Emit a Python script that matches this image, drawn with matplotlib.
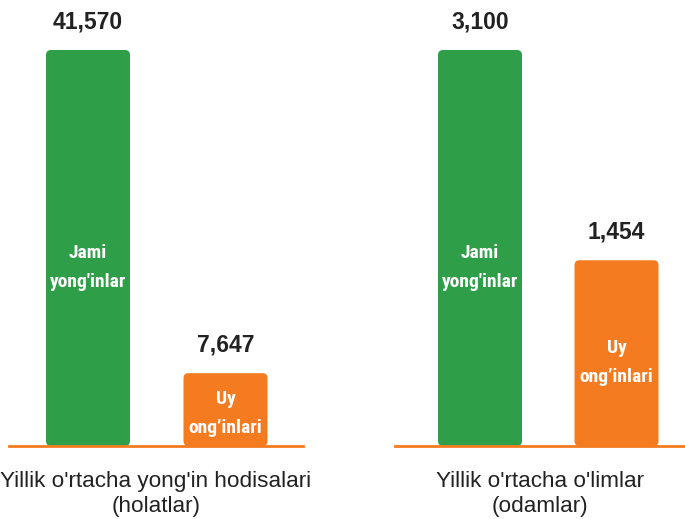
import matplotlib
matplotlib.use("Agg")
import matplotlib.pyplot as plt
from matplotlib.patches import FancyBboxPatch

# data
groups = ["Yillik o'rtacha yong'in hodisalari\n(holatlar)",
          "Yillik o'rtacha o'limlar\n(odamlar)"]
fires = [41570, 7647]
deaths = [3100, 1454]
bar_names = ["Jami\nyong'inlar", "Uy\nong\u2019inlari"]

green = "#2E9E48"
orange = "#F47B20"
W, H = 685, 519

fig = plt.figure(figsize=(W / 100, H / 100), dpi=100)
fig.patch.set_facecolor("white")


def panel(left_px, right_px, first_center_px, gap_px, values, title):
    base_px = 446
    top_green_px = 50
    ax = fig.add_axes([left_px / W, (H - base_px) / H, (right_px - left_px) / W, base_px / H])
    xl = -(first_center_px - left_px) / gap_px
    xr = (right_px - first_center_px) / gap_px
    ymax = values[0] * base_px / (base_px - top_green_px)
    ax.set_xlim(xl, xr)
    ax.set_ylim(0, ymax)
    width = 84 / gap_px
    bars = ax.bar([0, 1], values, width=width, color=[green, orange])

    # swap the plain rectangles for rounded ones
    y_per_px = ymax / base_px
    x_per_px = 1 / gap_px
    for b in bars:
        x0, y0 = b.get_x(), b.get_y()
        w, h = b.get_width(), b.get_height()
        rb = FancyBboxPatch((x0, y0), w, h,
                            boxstyle="round,pad=0,rounding_size=%f" % (5 * x_per_px),
                            mutation_aspect=y_per_px / x_per_px,
                            facecolor=b.get_facecolor(), edgecolor="none")
        b.remove()
        ax.add_patch(rb)

    for i, v in enumerate(values):
        ax.annotate(f"{v:,}", (i, v), xytext=(0, 28), textcoords="offset pixels",
                    ha="center", va="center", fontsize=16.5, fontweight="bold",
                    color="#222222", family="Liberation Sans")
        ax.text(i, v * 0.45, bar_names[i], ha="center", va="center", color="white",
                fontsize=14, fontweight="bold", linespacing=1.8,
                family=["Roboto Condensed", "DejaVu Sans"])

    for s in ["top", "right", "left"]:
        ax.spines[s].set_visible(False)
    ax.spines["bottom"].set_color(orange)
    ax.spines["bottom"].set_linewidth(2)
    ax.set_xticks([])
    ax.set_yticks([])
    ax.set_facecolor("none")
    ax.text(0.5, -48 / base_px, title, transform=ax.transAxes, ha="center",
            va="center", fontsize=16.2, color="#222222", linespacing=1.3,
            family="Liberation Sans")
    return ax


panel(9, 303, 88, 137.5, fires, groups[0])
panel(395, 685, 480, 136.5, deaths, groups[1])

fig.savefig("out.png", dpi=100)
